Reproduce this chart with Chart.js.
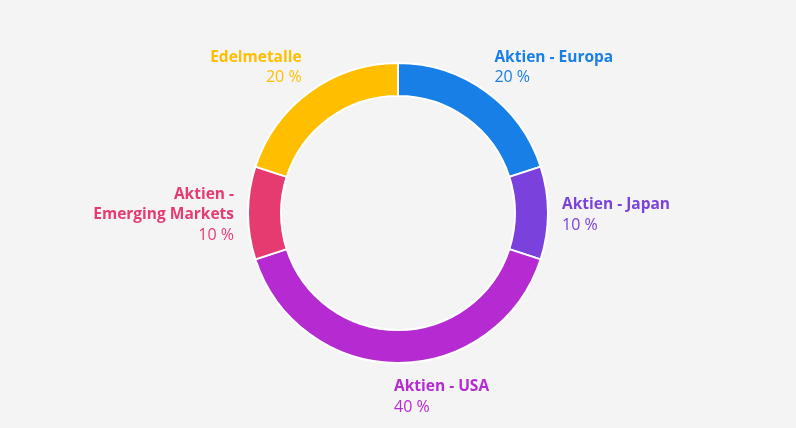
<!DOCTYPE html>
<html lang="de">
<head>
    <meta charset="UTF-8">
    <title>Allokation</title>
    <script src="https://cdn.jsdelivr.net/npm/chart.js@4/dist/chart.umd.min.js"></script>
    <style>
        html, body { margin: 0; padding: 0; background: #f4f4f4; }
        .container { width: 796px; height: 428px; }
    </style>
</head>
<body>
    <div class="container">
        <canvas id="donutChart" width="796" height="428"></canvas>
    </div>
    <script>
    var labels = [["Aktien - Europa"], ["Aktien - Japan"], ["Aktien - USA"], ["Aktien -", "Emerging Markets"], ["Edelmetalle"]];
    var values = [20, 10, 40, 10, 20];
    var colors = ["#177fe6", "#7a41dc", "#b52ad1", "#e63b71", "#ffbe00"];

    var FONT = "'Open Sans', 'Noto Sans', sans-serif";

    // draws the name + percentage next to every slice
    var sliceLabels = {
        id: 'sliceLabels',
        afterDatasetsDraw: function (chart) {
            var ctx = chart.ctx;
            var arcs = chart.getDatasetMeta(0).data;
            ctx.save();
            arcs.forEach(function (arc, i) {
                var mid = (arc.startAngle + arc.endAngle) / 2;
                var r = arc.outerRadius + 14;
                var px = arc.x + Math.cos(mid) * r;
                var py = arc.y + Math.sin(mid) * r;
                var lines = labels[i].slice();
                var lineH = 20;
                var n = lines.length + 1;
                var cosv = Math.cos(mid), sinv = Math.sin(mid);
                var top;
                if (sinv < -0.3) top = py - n * lineH + 7;
                else if (sinv > 0.3) top = py;
                else top = py - n * lineH / 2 + 2;
                var align = cosv < -0.1 ? 'right' : 'left';
                if (Math.abs(cosv) <= 0.1) px -= 4;
                ctx.textAlign = align;
                ctx.textBaseline = 'middle';
                ctx.fillStyle = colors[i];
                ctx.font = "bold 15.5px " + FONT;
                lines.forEach(function (t, k) {
                    ctx.fillText(t, px, top + lineH * k + lineH / 2);
                });
                ctx.font = "16px " + FONT;
                ctx.fillText(values[i] + " %", px, top + lineH * lines.length + lineH / 2);
            });
            ctx.restore();
        }
    };

    var ctx = document.getElementById("donutChart").getContext('2d');
    var myChart = new Chart(ctx, {
        type: 'doughnut',
        data: {
            labels: labels.map(function (l) { return l.join(' '); }),
            datasets: [{
                data: values,
                backgroundColor: colors,
                borderColor: '#ffffff',
                borderWidth: 2
            }]
        },
        options: {
            responsive: false,
            animation: false,
            cutout: '78%',
            layout: { padding: { top: 62, bottom: 64 } },
            plugins: {
                legend: { display: false },
                tooltip: { enabled: false }
            }
        },
        plugins: [sliceLabels]
    });
    </script>
</body>
</html>
